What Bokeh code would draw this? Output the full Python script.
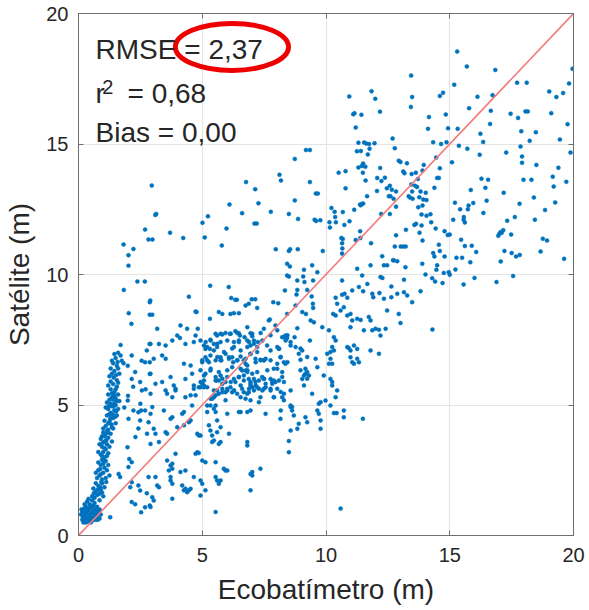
from bokeh.plotting import figure
from bokeh.models import LinearAxis, Label, Range1d, ColumnDataSource, FixedTicker, CustomJSTickFormatter
from bokeh.embed import file_html
from bokeh.resources import INLINE

# ---------------- data (Ecobatímetro, Satélite) in metres ----------------
tick_values = [0, 5, 10, 15, 20]
stats_rmse = "2,37"
stats_r2 = "0,68"
stats_bias = "0,00"

# steep band near the origin
band_pts = [
    (0.15,0.9),(0.2,0.75),(0.2,1.0),(0.25,0.6),(0.3,0.85),(0.3,1.1),(0.35,0.7),(0.4,0.95),(0.4,0.55),(0.45,0.8),
    (0.5,1.05),(0.5,0.65),(0.55,0.9),(0.6,0.7),(0.6,1.15),(0.65,0.85),(0.7,0.6),(0.7,1.0),(0.75,0.75),(0.8,0.9),
    (0.85,0.65),(0.25,1.2),(0.35,1.3),(0.45,1.2),(0.55,1.35),(0.15,0.6),(0.9,0.8),(0.3,0.5),(0.65,1.25),(0.4,1.4),
    (0.1,0.8),(0.2,0.5),(0.5,0.5),(0.75,1.1),(0.85,1.0),
    (0.55,1.5),(0.65,1.45),(0.7,1.7),(0.75,1.55),(0.8,1.9),(0.85,1.6),(0.9,1.75),(0.95,2.0),(0.6,1.8),(1.0,1.5),
    (1.05,1.85),(0.7,2.0),(0.85,1.35),(0.95,1.65),
    (0.75,2.2),(0.8,2.5),(0.85,2.3),(0.9,2.7),(0.95,2.15),(0.95,2.9),(1.0,2.4),(1.05,2.6),(1.1,2.2),(1.1,2.85),
    (1.15,2.5),(0.8,2.8),(1.2,2.7),(0.9,2.35),(1.05,3.0),(1.25,2.3),(0.7,2.4),(1.0,2.75),
    (0.8,3.2),(0.85,3.5),(0.9,3.1),(0.95,3.4),(0.95,3.8),(1.0,3.2),(1.05,3.6),(1.1,3.3),(1.1,3.9),(1.15,3.5),
    (1.2,3.15),(1.2,3.75),(1.25,3.4),(1.3,3.9),(1.0,3.95),(0.9,3.7),(1.35,3.6),(1.15,3.05),(1.05,3.35),
    (1.0,4.1),(1.05,4.4),(1.1,4.2),(1.15,4.6),(1.2,4.05),(1.2,4.85),(1.25,4.35),(1.3,4.7),(1.35,4.15),(1.35,4.95),
    (1.4,4.5),(1.45,4.8),(1.5,4.3),(1.55,4.6),(1.1,4.9),(1.3,4.5),(1.5,5.0),(1.4,4.1),(1.6,4.85),(1.25,4.65),
    (1.15,5.1),(1.2,5.4),(1.25,5.2),(1.3,5.6),(1.35,5.3),(1.4,5.8),(1.45,5.05),(1.45,5.5),(1.5,5.25),(1.55,5.7),
    (1.6,5.4),(1.3,5.9),(1.65,5.15),(1.2,5.75),(1.4,5.2),(1.55,5.95),
    (1.25,6.1),(1.3,6.4),(1.35,6.2),(1.4,6.6),(1.45,6.3),(1.5,6.8),(1.55,6.5),(1.6,7.0),(1.65,6.2),(1.7,7.3),
    (1.75,6.7),(1.45,6.95),(1.35,6.7),(1.6,6.4),(1.7,6.9),
    (1.2,4.3),(1.28,4.45),(1.33,4.25),(1.38,4.65),(1.42,4.95),(1.48,4.55),(1.52,4.75),(1.22,4.95),(1.3,5.05),(1.45,5.35),
    (1.55,5.15),(1.35,5.45),(1.5,5.6),(1.6,5.85),(1.42,6.05),(1.52,6.15),(1.58,6.65),
    (1.05,3.8),(1.12,3.65),(1.18,3.95),(0.98,3.55),(1.15,4.0),(0.95,3.05),(1.02,2.85),(0.88,2.55),(0.92,2.05),(1.12,2.05),
    (0.78,1.75),(0.88,1.85),(0.62,1.62),
    (0.18,0.68),(0.22,0.88),(0.28,0.72),(0.33,0.95),(0.38,0.62),(0.42,1.05),(0.48,0.72),(0.52,0.85),(0.58,0.58),(0.62,0.95),
    (0.68,0.72),(0.72,0.88),(0.78,0.6),(0.12,1.0),(0.25,1.05),(0.35,0.55),(0.45,0.6),(0.58,1.1),
]

# sparse points right of the band, x < 3
left_pts = [
    (2.15,6.9),(2.87,7.34),(2.76,7.09),(2.69,6.64),(2.88,6.64),(1.82,6.6),(1.99,6.5),(2.29,6.26),(2.15,6.0),(2.49,5.88),
    (2.56,5.56),(2.88,6.19),(1.99,5.17),(2.22,4.79),(2.42,4.72),(2.53,4.79),(2.69,4.79),(2.83,4.34),(2.49,4.41),(2.02,4.47),
    (1.98,3.38),(2.05,2.93),(2.15,2.81),(2.02,2.62),(2.83,2.24),(1.62,2.36),(1.68,2.24),(2.15,2.04),(2.09,1.85),(2.42,1.92),
    (2.49,1.72),(2.76,1.62),(2.15,1.28),(2.29,1.2),(2.69,1.08),(2.88,1.15),(2.53,0.89),(1.28,0.7),(2.03,8.52),(2.14,8.11),
    (2.88,8.94),(2.88,8.46),(2.98,8.46),(2.55,6.7),(2.21,5.7),(2.71,5.6),(2.0,5.35),(1.85,4.9),(2.5,5.05),(2.3,3.77),
    (2.42,4.1),(2.77,3.9),
]

# upper-left sparse points (y 9 - 14)
upleft_pts = [
    (2.96,13.41),(3.14,12.32),(3.1,12.28),(2.69,11.72),(3.70,11.6),(2.83,11.34),(2.99,11.34),(4.23,11.4),(1.82,11.15),(2.22,10.98),
    (2.02,10.74),(2.02,10.34),(5.01,11.98),(5.23,12.23),(5.10,11.42),(5.79,11.11),(5.98,11.76),(6.10,12.68),(6.61,12.35),(6.77,13.54),
    (7.14,13.27),(7.27,12.73),(7.11,11.95),(7.2,11.95),(2.38,9.73),(2.68,9.73),(1.83,9.41),(5.32,9.57),(6.07,9.52),(4.46,9.15),
    (6.17,9.1),(6.33,9.03),(6.4,9.03),(7.0,9.05),(7.14,9.05),(2.9,9.0),
]

# upper-middle cluster (x 7 - 13.4, y > 10.5)
upmid_pts = [
    (13.44,17.62),(13.48,16.8),(13.43,16.42),(10.94,16.82),(11.84,17.02),(11.99,16.73),(11.15,16.18),(11.1,16.14),(11.43,16.12),(12.18,16.24),
    (11.2,15.63),(12.69,15.21),(11.31,15.05),(11.54,15.06),(11.62,15.02),(11.74,15.0),(11.96,15.03),(12.78,14.84),(11.25,14.72),(11.41,14.73),
    (11.76,14.82),(11.69,14.6),(9.19,14.77),(9.35,14.77),(8.74,14.43),(12.94,14.36),(13.01,14.31),(13.27,14.26),(11.5,14.25),(11.45,14.16),
    (11.31,14.1),(11.59,14.13),(12.19,14.08),(11.49,13.9),(10.51,13.9),(10.79,13.96),(13.12,13.95),(13.17,13.88),(8.12,13.82),(8.18,13.6),
    (9.35,13.54),(12.07,13.7),(12.24,13.58),(12.38,13.71),(11.6,13.6),(12.46,13.3),(12.58,13.4),(12.06,13.2),(12.66,13.25),(12.83,13.18),
    (10.79,13.3),(9.59,13.1),(9.67,13.1),(12.54,13.0),(12.6,13.0),(12.73,12.9),(11.66,13.0),(13.34,13.0),(13.39,12.95),(8.74,12.84),
    (11.45,12.7),(11.4,12.65),(11.5,12.72),(11.38,12.68),(12.83,12.6),(10.22,12.55),(7.77,12.4),(8.5,12.32),(10.35,12.4),(10.37,12.2),
    (10.4,12.0),(10.68,12.39),(11.14,12.48),(12.23,12.32),(12.58,12.32),(8.87,12.13),(9.54,12.1),(9.6,12.05),(9.77,12.08),(10.14,12.0),
    (10.16,11.8),(10.95,12.04),(10.74,11.9),(11.38,11.66),(13.23,11.71),(12.83,11.5),(11.2,11.32),(11.39,11.4),(10.62,11.4),(10.68,11.36),
    (10.65,11.2),(10.66,11.0),(10.65,10.8),(11.82,11.2),(12.78,11.07),(13.02,11.07),(13.12,11.07),(13.22,11.07),(7.97,10.97),(8.5,10.9),
    (8.55,10.97),(8.86,10.97),(9.87,10.9),(12.27,10.7),(12.71,10.55),
]

# upper-right region (x > 13.4, y > 10.5)
upright_pts = [
    (15.3,18.54),(15.69,17.97),(16.84,17.84),(19.96,17.88),(15.18,17.27),(17.72,17.35),(18.11,17.35),(19.82,17.32),(14.6,16.84),(14.73,16.96),
    (16.12,16.81),(16.73,16.87),(19.02,17.01),(19.31,16.8),(19.58,16.95),(15.78,16.37),(14.16,16.03),(14.84,16.13),(16.66,16.27),(17.46,16.16),
    (17.76,16.0),(18.06,16.25),(18.15,16.25),(19.1,16.18),(14.12,15.58),(14.93,15.6),(15.32,15.58),(16.63,15.77),(19.76,15.76),(16.24,15.39),
    (16.35,15.08),(17.89,15.49),(18.48,15.45),(14.33,15.07),(14.65,15.0),(14.87,15.07),(18.23,15.12),(19.45,15.17),(15.37,14.93),(15.71,14.82),
    (17.28,14.67),(17.86,14.9),(16.21,14.59),(17.92,14.52),(17.92,14.28),(19.88,14.67),(14.45,14.48),(15.09,14.3),(13.95,14.2),(13.9,13.98),
    (13.63,13.9),(13.46,13.85),(13.71,13.66),(14.6,14.07),(18.5,14.2),(19.39,14.09),(14.49,13.7),(14.56,13.7),(16.28,13.67),(16.55,13.63),
    (17.98,13.63),(18.3,13.63),(19.16,13.75),(19.71,13.55),(13.45,13.45),(13.6,13.4),(13.68,13.35),(14.38,13.32),(15.85,13.24),(16.44,13.32),
    (19.2,13.37),(13.48,13.18),(13.82,13.18),(14.03,13.13),(17.18,13.13),(13.5,12.9),(13.77,12.96),(13.93,12.87),(14.06,12.85),(13.9,12.64),
    (13.73,12.58),(15.21,12.75),(15.42,12.5),(15.76,12.64),(15.73,12.5),(15.95,12.74),(16.49,12.83),(16.36,12.36),(17.82,12.71),(18.4,12.95),
    (18.85,12.47),(19.26,12.76),(13.86,12.3),(14.06,12.25),(14.22,12.31),(15.57,12.2),(15.56,12.1),(15.61,11.99),(15.14,12.1),(17.63,12.2),
    (17.32,12.06),(18.44,12.1),(13.57,11.9),(13.64,11.94),(13.86,11.88),(14.25,12.0),(14.43,11.76),(14.79,11.66),(15.0,11.53),(14.92,11.51),
    (17.0,11.55),(17.05,11.62),(17.1,11.6),(17.16,11.7),(16.96,11.48),(17.48,11.53),(13.78,11.6),(13.9,11.3),(15.46,11.33),(18.76,11.37),
    (18.93,11.3),(14.56,11.14),(15.61,11.09),(15.89,11.1),
    (14.33,10.82),(14.6,10.9),(14.38,10.69),(14.79,10.69),(15.27,10.64),(15.5,10.64),(16.07,10.86),(15.83,10.47),(17.21,10.9),(17.5,10.82),
    (17.68,10.69),(17.83,10.75),(18.67,10.88),(19.62,10.6),(17.06,10.5),
]

# lower-right region (x > 14.2, y < 10.5)
lowright_pts = [
    (14.49,10.35),(14.46,10.18),(14.76,10.06),(14.96,10.09),(15.0,9.99),(15.23,10.19),(14.29,9.86),(14.41,9.73),(14.71,9.67),(15.56,9.62),
    (16.0,9.87),(16.89,9.71),(17.56,9.94),(14.3,7.89),
]

# main cloud (x 3 - 14, y < 10.5)
main_pts = [
    (8.43,10.41),(8.54,10.31),(9.44,10.35),(9.65,10.09),(9.11,10.18),(11.26,10.22),(11.8,10.35),(12.34,10.35),(12.47,10.35),(12.74,10.54),
    (12.88,10.51),(13.21,10.28),(13.89,10.41),(8.43,9.96),(8.5,9.92),(8.84,9.77),(9.08,9.92),(9.13,9.71),(9.48,9.77),(10.65,9.77),
    (11.46,9.96),(11.67,9.64),(12.2,9.9),(12.28,9.87),(12.64,9.54),(13.15,9.8),(14.02,10.0),
    (8.34,9.39),(8.84,9.41),(8.81,9.23),(9.24,9.41),(9.42,9.16),(10.39,9.11),(10.65,9.22),(10.75,9.26),(10.86,9.11),(11.06,9.39),
    (11.33,9.52),(11.5,9.36),(11.87,9.26),(11.91,9.13),(12.16,9.29),(12.34,9.07),(12.64,9.13),(12.88,9.26),(13.15,9.32),(13.28,9.2),
    (13.48,8.94),(13.82,9.36),(7.87,8.94),(8.07,8.9),
    (4.73,8.58),(4.77,8.56),(5.31,8.3),(5.67,8.56),(5.81,8.49),(6.14,8.49),(6.28,8.52),(6.48,8.52),(6.75,8.81),(6.88,8.88),
    (7.22,8.72),(7.69,8.24),(7.73,8.28),(8.43,8.49),(8.77,8.81),(9.04,8.56),(9.19,8.49),(9.47,8.88),(9.48,8.72),(10.29,8.49),
    (10.39,8.43),(10.59,8.62),(10.72,8.75),(10.86,8.43),(10.99,8.49),(11.06,8.24),(11.26,8.3),(11.4,8.26),(11.73,8.37),(11.8,8.24),
    (12.47,8.62),(12.94,8.49),(13.01,8.14),(10.45,8.88),
    (3.18,7.92),(4.12,8.05),(4.39,7.92),(4.73,7.66),(4.82,7.92),(5.6,7.66),(5.81,7.7),(6.12,7.73),(6.34,7.83),(6.48,7.75),
    (6.52,7.66),(6.82,7.98),(6.95,7.75),(7.02,7.63),(7.49,7.92),(7.96,8.05),(8.03,7.86),(8.23,7.6),(8.36,7.66),(8.43,7.57),
    (8.73,7.6),(8.84,7.94),(9.38,8.24),(9.51,8.17),(9.85,7.98),(10.12,7.86),(10.32,7.6),(10.39,7.47),(10.99,7.98),(11.53,7.86),
    (11.87,7.86),(12.0,7.92),(12.2,7.66),(12.14,7.88),(12.41,7.92),
    (2.91,7.34),(3.25,7.34),(3.52,7.28),(3.79,7.47),(3.99,7.66),(4.1,7.57),(4.32,7.34),(4.66,7.41),(4.93,7.47),(5.07,7.28),
    (5.13,7.15),(5.33,7.5),(5.31,7.15),(5.47,7.34),(5.6,7.22),(5.74,7.41),(6.01,7.47),(6.28,7.22),(6.48,7.41),(6.71,7.6),
    (6.82,7.47),(6.95,7.28),(7.09,7.47),(7.25,7.41),(7.22,7.22),(7.62,7.28),(7.76,7.09),(8.03,7.22),(8.1,7.15),(8.57,7.41),
    (8.77,7.22),(8.9,6.96),(9.04,7.09),(9.35,7.47),(10.18,7.03),(10.32,7.09),(10.25,7.22),(10.86,7.22),(10.92,7.18),(10.99,7.09),
    (11.13,7.28),(11.26,7.15),(11.8,7.09),(12.14,6.96),
    (3.04,6.77),(3.38,6.9),(3.52,6.77),(4.26,6.58),(4.53,6.51),(5.0,6.64),(5.13,6.83),(5.2,6.71),(5.33,6.9),(5.54,6.71),
    (5.74,6.83),(5.77,6.71),(5.94,6.96),(6.08,6.83),(6.21,6.83),(6.25,6.64),(6.41,6.71),(6.55,6.86),(6.68,6.71),(6.75,6.58),
    (6.82,6.51),(6.95,6.96),(7.15,6.77),(7.35,6.73),(7.49,6.71),(7.56,6.77),(7.76,6.71),(7.89,6.39),(8.03,6.58),(8.16,6.83),
    (8.3,6.64),(8.36,6.58),(8.97,6.73),(9.17,6.39),(9.58,6.77),(9.65,6.45),(10.05,6.96),(10.12,6.58),(10.18,6.77),(10.25,6.58),
    (10.99,6.83),(11.06,6.64),(11.13,6.58),(11.26,6.77),(11.33,6.64),
    (2.91,6.2),(3.11,5.81),(3.38,5.88),(3.72,6.07),(3.85,5.75),(3.92,5.62),(4.32,6.0),(4.59,6.2),(4.93,5.88),(5.0,5.81),
    (5.07,6.13),(5.13,6.2),(5.33,6.32),(5.54,6.07),(5.58,5.94),(5.74,6.13),(5.67,5.94),(5.81,5.81),(5.94,5.88),(6.01,6.07),
    (6.28,6.0),(6.34,5.88),(6.48,6.07),(6.61,6.32),(6.75,6.32),(6.68,6.13),(6.82,6.26),(6.88,6.0),(6.95,5.81),(7.09,6.0),
    (7.15,5.88),(7.42,6.07),(7.49,6.0),(7.56,5.81),(7.76,6.0),(7.83,5.81),(7.89,5.94),(7.96,5.88),(8.23,6.07),(8.3,5.88),
    (9.04,6.0),(9.11,6.13),(9.17,6.2),(9.24,6.26),(9.31,6.13),(9.91,6.13),(10.18,6.0),(10.25,5.88),(10.25,5.75),
    (2.91,5.43),(3.52,5.56),(3.58,5.43),(3.79,5.3),(3.92,5.56),(4.32,5.3),(4.53,5.37),(4.73,5.37),(4.66,5.62),(4.86,5.68),
    (4.93,5.68),(5.07,5.68),(5.2,5.68),(5.47,5.3),(5.4,5.24),(5.54,5.37),(5.6,5.56),(5.67,5.43),(5.81,5.49),(5.94,5.49),
    (6.01,5.62),(6.14,5.68),(6.21,5.49),(6.28,5.56),(6.41,5.43),(6.61,5.62),(6.68,5.49),(6.75,5.24),(6.82,5.43),(6.88,5.49),
    (6.95,5.75),(7.02,5.68),(7.09,5.56),(7.22,5.68),(7.29,5.62),(7.35,5.3),(7.49,5.62),(7.56,5.68),(7.76,5.56),(7.89,5.3),
    (8.03,5.62),(8.23,5.3),(8.3,5.43),(8.57,4.98),(8.63,4.92),(9.44,5.43),(9.71,5.05),(9.78,5.11),(9.98,5.17),(10.18,4.98),
    (10.39,5.3),(10.45,5.56),
    (2.91,4.66),(2.98,4.92),(3.45,4.79),(3.79,4.53),(3.72,4.47),(4.19,4.66),(4.26,4.73),(4.53,4.41),(4.59,4.98),(5.2,4.98),
    (5.33,4.98),(5.54,4.98),(5.2,4.73),(5.54,4.73),(5.6,4.41),(6.01,4.66),(6.48,4.73),(6.82,4.73),(7.56,4.66),(8.16,4.47),
    (8.63,4.79),(8.7,4.6),(8.9,4.28),(9.17,4.53),(9.65,4.79),(9.71,4.66),(9.78,4.41),(10.32,4.69),(10.43,4.69),(10.72,4.79),
    (10.72,4.53),(11.49,4.47),
    (3.04,4.09),(3.11,3.9),(3.52,3.96),(3.58,3.9),(3.99,4.15),(4.26,4.22),(4.46,4.34),(4.8,3.9),(4.86,3.83),(4.93,3.83),
    (5.27,4.22),(5.33,4.02),(5.4,3.83),(5.6,3.96),(5.74,4.15),(6.08,3.9),(8.57,4.02),(8.84,4.09),(9.24,4.34),(9.78,4.09),
    (8.5,3.62),
    (2.91,3.51),(3.25,3.58),(3.92,3.13),(4.73,3.13),(4.8,3.19),(4.86,3.16),(5.4,3.58),(5.47,3.64),(5.67,3.51),(5.74,3.58),
    (6.82,3.58),(6.82,3.45),(8.5,3.19),
    (3.58,2.87),(3.72,2.68),(3.79,2.75),(3.79,2.56),(4.32,2.49),(5.0,2.87),(5.13,2.81),(5.54,2.81),(5.87,2.56),(5.94,2.49),
    (6.01,2.49),(7.02,2.43),(7.35,2.56),(3.65,2.49),
    (3.11,2.24),(3.72,2.24),(3.72,2.11),(3.79,1.98),(4.12,2.43),(4.19,1.92),(4.66,2.24),(5.0,1.98),(4.93,2.11),(5.54,2.24),
    (5.6,2.11),(5.67,1.98),(5.74,2.11),(6.95,2.36),(7.02,2.3),(3.25,1.85),(3.18,1.92),
    (2.98,1.47),(3.04,1.34),(3.79,1.41),(4.26,1.73),(4.32,1.79),(4.39,1.66),(4.46,1.73),(4.53,1.79),(4.93,1.53),(5.13,1.73),
    (6.95,1.73),(2.91,1.09),
    (5.54,0.9),(10.59,1.03),
]

# extra points of the dense core (x 4.5 - 9.5, y 4.7 - 7.8)
core_pts = [
    (5.54,7.73),(5.74,7.73),(5.94,7.76),(6.15,7.73),(6.42,7.76),(7.02,7.73),(7.36,7.76),(7.76,7.67),
    (5.14,7.41),(5.34,7.47),(5.61,7.35),(6.28,7.41),(6.48,7.47),(6.89,7.41),(7.09,7.35),(7.43,7.47),(8.3,7.6),(8.44,7.67),(8.37,7.47),
    (5.2,7.22),(5.47,7.09),(5.88,7.03),(6.21,7.16),(6.55,7.09),(6.82,7.22),(6.95,6.96),(7.22,7.03),(8.1,7.16),(8.57,7.28),(8.97,7.16),
    (5.0,6.71),(5.27,6.64),(5.61,6.84),(5.74,6.71),(6.08,6.77),(6.42,6.71),(6.75,6.77),(7.16,6.64),(7.36,6.71),(7.49,6.71),
    (8.17,6.84),(8.44,6.64),(9.24,6.84),
    (4.93,6.33),(5.34,6.39),(5.67,6.26),(6.01,6.33),(6.21,6.45),(6.55,6.39),(6.82,6.33),(7.02,6.2),(7.22,6.26),(7.63,6.33),
    (8.03,6.39),(8.23,6.26),(8.97,6.33),
    (5.07,5.94),(5.54,5.94),(5.81,6.01),(6.15,5.88),(6.48,6.07),(6.68,5.94),(6.95,5.88),(7.29,5.94),(7.49,6.01),(7.83,5.88),
    (8.1,5.94),(9.24,6.01),
    (4.66,5.75),(5.07,5.75),(5.47,5.56),(5.81,5.62),(6.01,5.56),(6.28,5.56),(6.55,5.75),(6.89,5.62),(7.16,5.75),(7.43,5.56),
    (7.76,5.62),(8.17,5.5),(8.57,5.56),(9.11,5.75),
    (5.34,5.24),(5.94,5.18),(6.55,5.3),(6.95,5.18),(7.29,5.11),(7.9,5.3),(8.3,5.18),
    (5.47,4.86),(6.55,4.73),(6.95,4.79),(8.17,4.79),(8.57,4.92),
]

point_groups = [band_pts, left_pts, upleft_pts, upmid_pts, upright_pts, lowright_pts, main_pts, core_pts]
ecobatimetro = [pt[0] for grp in point_groups for pt in grp]
satelite = [pt[1] for grp in point_groups for pt in grp]
identity_line = [0, 20]

# ---------------- styling ----------------
FONT = "Liberation Sans"
TXT = "#262626"
FRAME = "#6e6e6e"
GRID = "#e4e4e4"

p = figure(width=589, height=610, x_range=Range1d(0, 20), y_range=Range1d(0, 20),
           output_backend="svg", toolbar_location=None,
           min_border_left=78, min_border_right=16, min_border_top=13, min_border_bottom=75)
p.background_fill_color = "white"
p.border_fill_color = "white"
p.outline_line_color = FRAME
p.outline_line_width = 1

for ax in (p.xaxis[0], p.yaxis[0]):
    ax.ticker = FixedTicker(ticks=tick_values)
    ax.major_tick_in = 5
    ax.major_tick_out = 0
    ax.minor_tick_line_color = None
    ax.axis_line_color = FRAME
    ax.major_tick_line_color = FRAME
    ax.major_label_text_font = FONT
    ax.major_label_text_font_size = "20px"
    ax.major_label_text_color = TXT
    ax.axis_label_text_font = FONT
    ax.axis_label_text_font_size = "28px"
    ax.axis_label_text_font_style = "normal"
    ax.axis_label_text_color = TXT

p.xaxis.axis_label = "Ecobatímetro (m)"
p.yaxis.axis_label = "Satélite (m)"
p.xaxis.major_label_standoff = 12
p.xaxis.axis_label_standoff = 9
p.yaxis.major_label_standoff = 10
p.yaxis.axis_label_standoff = 8

blank = CustomJSTickFormatter(code="return ''")
for loc in ("above", "right"):
    extra = LinearAxis(ticker=FixedTicker(ticks=tick_values), major_tick_in=5, major_tick_out=0,
                       minor_tick_line_color=None, axis_line_color=FRAME, major_tick_line_color=FRAME,
                       formatter=blank, major_label_text_color=None,
                       major_label_text_font_size="1px", major_label_standoff=0)
    p.add_layout(extra, loc)

for g in (p.xgrid[0], p.ygrid[0]):
    g.ticker = FixedTicker(ticks=tick_values)
    g.grid_line_color = GRID
    g.grid_line_width = 1

src = ColumnDataSource(dict(x=ecobatimetro, y=satelite))
p.scatter("x", "y", source=src, marker="circle", size=4, fill_color="#0072BD",
          line_color="#0072BD", line_width=0.5)

p.line(identity_line, identity_line, line_color="#f47a7a", line_width=1.6)

# statistics text
p.add_layout(Label(x=0.69, y=18.62, text="RMSE = " + stats_rmse, text_font=FONT,
                   text_font_size="28px", text_color=TXT, text_baseline="alphabetic"))
p.add_layout(Label(x=0.69, y=16.93, text="r", text_font=FONT,
                   text_font_size="28px", text_color=TXT, text_baseline="alphabetic"))
p.add_layout(Label(x=0.96, y=17.2, text="2", text_font=FONT,
                   text_font_size="20px", text_color=TXT, text_baseline="alphabetic"))
p.add_layout(Label(x=1.98, y=16.93, text="= " + stats_r2, text_font=FONT,
                   text_font_size="28px", text_color=TXT, text_baseline="alphabetic"))
p.add_layout(Label(x=0.69, y=15.44, text="Bias = " + stats_bias, text_font=FONT,
                   text_font_size="28px", text_color=TXT, text_baseline="alphabetic"))

# red highlight ellipse around the RMSE value
p.ellipse(x=[6.2], y=[18.72], width=[4.57], height=[1.8], fill_color=None,
          line_color="#ee0000", line_width=5)

open("out.html", "w").write(file_html(p, INLINE))
